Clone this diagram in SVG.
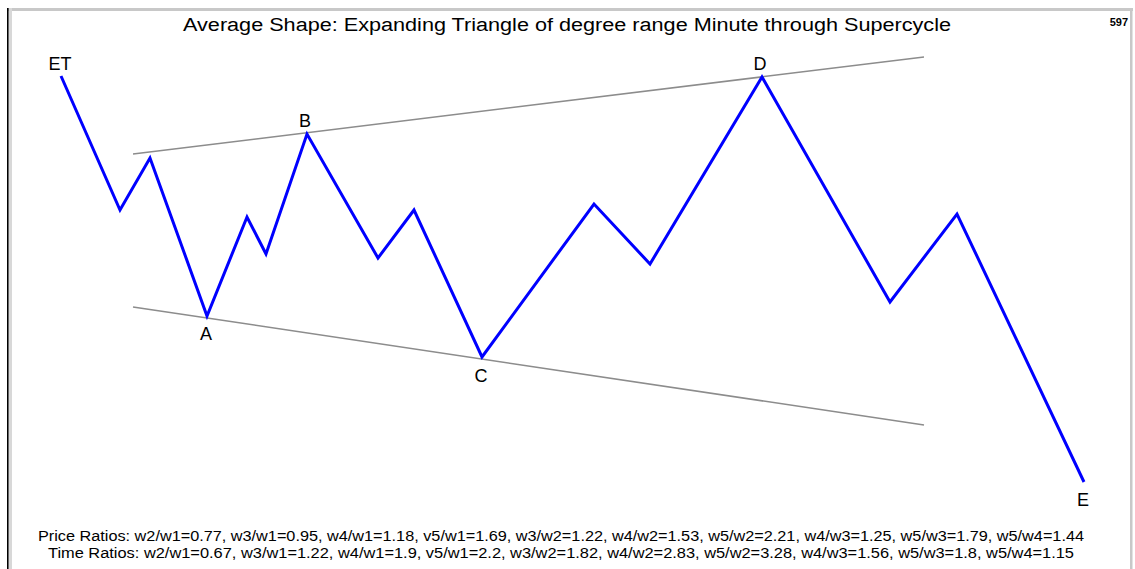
<svg xmlns="http://www.w3.org/2000/svg" width="1135" height="569" viewBox="0 0 1135 569">
<style>
.lbl{font-family:"Liberation Sans",Arial,sans-serif;font-size:18px;fill:#000;text-anchor:middle}
.ttl{font-family:"Liberation Sans",Arial,sans-serif;font-size:18px;fill:#000}
.rat{font-family:"Liberation Sans",Arial,sans-serif;font-size:14px;fill:#000}
.wave{fill:none;stroke:#0000ff;stroke-width:3;stroke-linejoin:miter}
.trend{stroke:#8c8c8c;stroke-width:1.5;fill:none}
</style>
<rect x="0" y="0" width="1135" height="569" fill="#fff"/>
<g id="frame">
<rect x="7" y="8" width="1126" height="3" fill="#c8c8c8"/>
<rect x="9" y="8" width="3" height="561" fill="#d8d8d8"/>
<rect x="7" y="8" width="1.6" height="561" fill="#000"/>
<rect x="1130" y="8" width="2.5" height="561" fill="#c8c8c8"/>
</g>
<text class="ttl" x="183" y="31" textLength="768" lengthAdjust="spacingAndGlyphs">Average Shape: Expanding Triangle of degree range Minute through Supercycle</text>
<text x="1128" y="26" font-family="'Liberation Sans',Arial,sans-serif" font-size="11" font-weight="bold" text-anchor="end">597</text>
<g id="connectors">
<line class="trend" x1="133" y1="154" x2="924" y2="57"/>
<line class="trend" x1="133" y1="307" x2="924" y2="425"/>
<polyline class="wave" points="61,76 120,210 150,158 207,316 247,217 266,254 307,134 378,258 414,210 482,357 594,204 650,264 762,77 890,302 957,214 1084,482"/>
</g>
<g id="node-ET"><text class="lbl" x="60" y="70">ET</text></g>
<g id="node-A"><text class="lbl" x="206" y="340">A</text></g>
<g id="node-B"><text class="lbl" x="305" y="127">B</text></g>
<g id="node-C"><text class="lbl" x="481" y="382">C</text></g>
<g id="node-D"><text class="lbl" x="760" y="70">D</text></g>
<g id="node-E"><text class="lbl" x="1083" y="506">E</text></g>
<text class="rat" x="38" y="541" textLength="1046" lengthAdjust="spacingAndGlyphs">Price Ratios: w2/w1=0.77, w3/w1=0.95, w4/w1=1.18, v5/w1=1.69, w3/w2=1.22, w4/w2=1.53, w5/w2=2.21, w4/w3=1.25, w5/w3=1.79, w5/w4=1.44</text>
<text class="rat" x="48" y="558" textLength="1026" lengthAdjust="spacingAndGlyphs">Time Ratios: w2/w1=0.67, w3/w1=1.22, w4/w1=1.9, v5/w1=2.2, w3/w2=1.82, w4/w2=2.83, w5/w2=3.28, w4/w3=1.56, w5/w3=1.8, w5/w4=1.15</text>
</svg>
